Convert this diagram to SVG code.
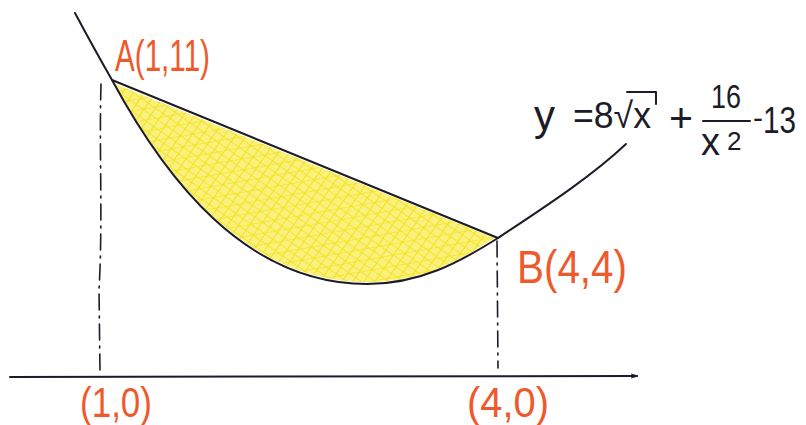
<svg xmlns="http://www.w3.org/2000/svg" width="806" height="425" viewBox="0 0 806 425">
  <defs>
    <style>
      .ink { fill: none; stroke: #1c1c28; stroke-width: 2; stroke-linecap: round; stroke-linejoin: round; }
      .guide { fill: none; stroke: #1c1c28; stroke-width: 1.6; stroke-dasharray: 16 6 2 6; stroke-linecap: round; }
      .lbl { fill: #ee5a2b; font-family: "Liberation Sans", "DejaVu Sans", sans-serif; }
      .eq { fill: #1c1c28; font-family: "Liberation Sans", "DejaVu Sans", sans-serif; }
    </style>
    <pattern id="hatchA" width="9" height="9" patternUnits="userSpaceOnUse" patternTransform="rotate(35)">
      <line x1="0" y1="0" x2="0" y2="9" stroke="#ecdc00" stroke-width="1.4"/>
    </pattern>
    <pattern id="hatchB" width="8" height="8" patternUnits="userSpaceOnUse" patternTransform="rotate(-55)">
      <line x1="0" y1="0" x2="0" y2="8" stroke="#efe000" stroke-width="1.3"/>
    </pattern>
    <pattern id="hatchC" width="11" height="11" patternUnits="userSpaceOnUse" patternTransform="rotate(80)">
      <line x1="0" y1="0" x2="0" y2="11" stroke="#f2e400" stroke-width="1.1"/>
    </pattern>
    <marker id="tip" viewBox="0 0 10 10" refX="9" refY="5" markerWidth="3.5" markerHeight="3.5" orient="auto">
      <path d="M0,2 L10,5 L0,8" fill="none" stroke="#1c1c28" stroke-width="1.5"/>
    </marker>
  </defs>
  <rect width="806" height="425" fill="#ffffff"/>

  <g id="shading">
    <path d="M115,84 L494,238 C458,262 420,282 367,282 C247,282 168,180 115,84 Z" fill="#faf07e"/>
    <path d="M115,84 L494,238 C458,262 420,282 367,282 C247,282 168,180 115,84 Z" fill="url(#hatchA)"/>
    <path d="M115,84 L494,238 C458,262 420,282 367,282 C247,282 168,180 115,84 Z" fill="url(#hatchB)"/>
    <path d="M115,84 L494,238 C458,262 420,282 367,282 C247,282 168,180 115,84 Z" fill="url(#hatchC)"/>
  </g>

  <g id="connectors">
    <path id="axis" class="ink" d="M10,377 L637,376" marker-end="url(#tip)"/>
    <path id="curve" class="ink" d="M75,13 Q92,45 112,80 C165,178 245,284 367,284 C420,284 460,262 498,238 C540,210 590,178 626,144"/>
    <path id="chord" class="ink" d="M112,80 L498,238"/>
    <path id="guide-left" class="guide" d="M101,84 C99,150 103,220 99,290 L100,372"/>
    <path id="guide-right" class="guide" d="M497,241 L498,368"/>
  </g>

  <g id="label-A">
    <text class="lbl" x="115" y="71" font-size="44" textLength="95" lengthAdjust="spacingAndGlyphs">A(1,11)</text>
  </g>
  <g id="label-B">
    <text class="lbl" x="517" y="283" font-size="46" textLength="110" lengthAdjust="spacingAndGlyphs">B(4,4)</text>
  </g>
  <g id="label-10">
    <text class="lbl" x="80" y="417" font-size="42" textLength="72" lengthAdjust="spacingAndGlyphs">(1,0)</text>
  </g>
  <g id="label-40">
    <text class="lbl" x="467" y="417" font-size="42" textLength="82" lengthAdjust="spacingAndGlyphs">(4,0)</text>
  </g>

  <g id="equation">
    <text class="eq" x="534" y="130" font-size="42">y</text>
    <text class="eq" x="573" y="128" font-size="36" textLength="78" lengthAdjust="spacingAndGlyphs">=8√x</text>
    <path class="ink" d="M627,92 L656,92 L656,104"/>
    <text class="eq" x="669" y="132" font-size="40" textLength="24" lengthAdjust="spacingAndGlyphs">+</text>
    <text class="eq" x="711" y="108" font-size="34" textLength="30" lengthAdjust="spacingAndGlyphs">16</text>
    <path class="ink" d="M703,121 L750,121"/>
    <text class="eq" x="701" y="155" font-size="38">x</text>
    <text class="eq" x="727" y="150" font-size="26">2</text>
    <text class="eq" x="753" y="128" font-size="30" textLength="10" lengthAdjust="spacingAndGlyphs">-</text>
    <text class="eq" x="763" y="133" font-size="36" textLength="33" lengthAdjust="spacingAndGlyphs">13</text>
  </g>
</svg>
